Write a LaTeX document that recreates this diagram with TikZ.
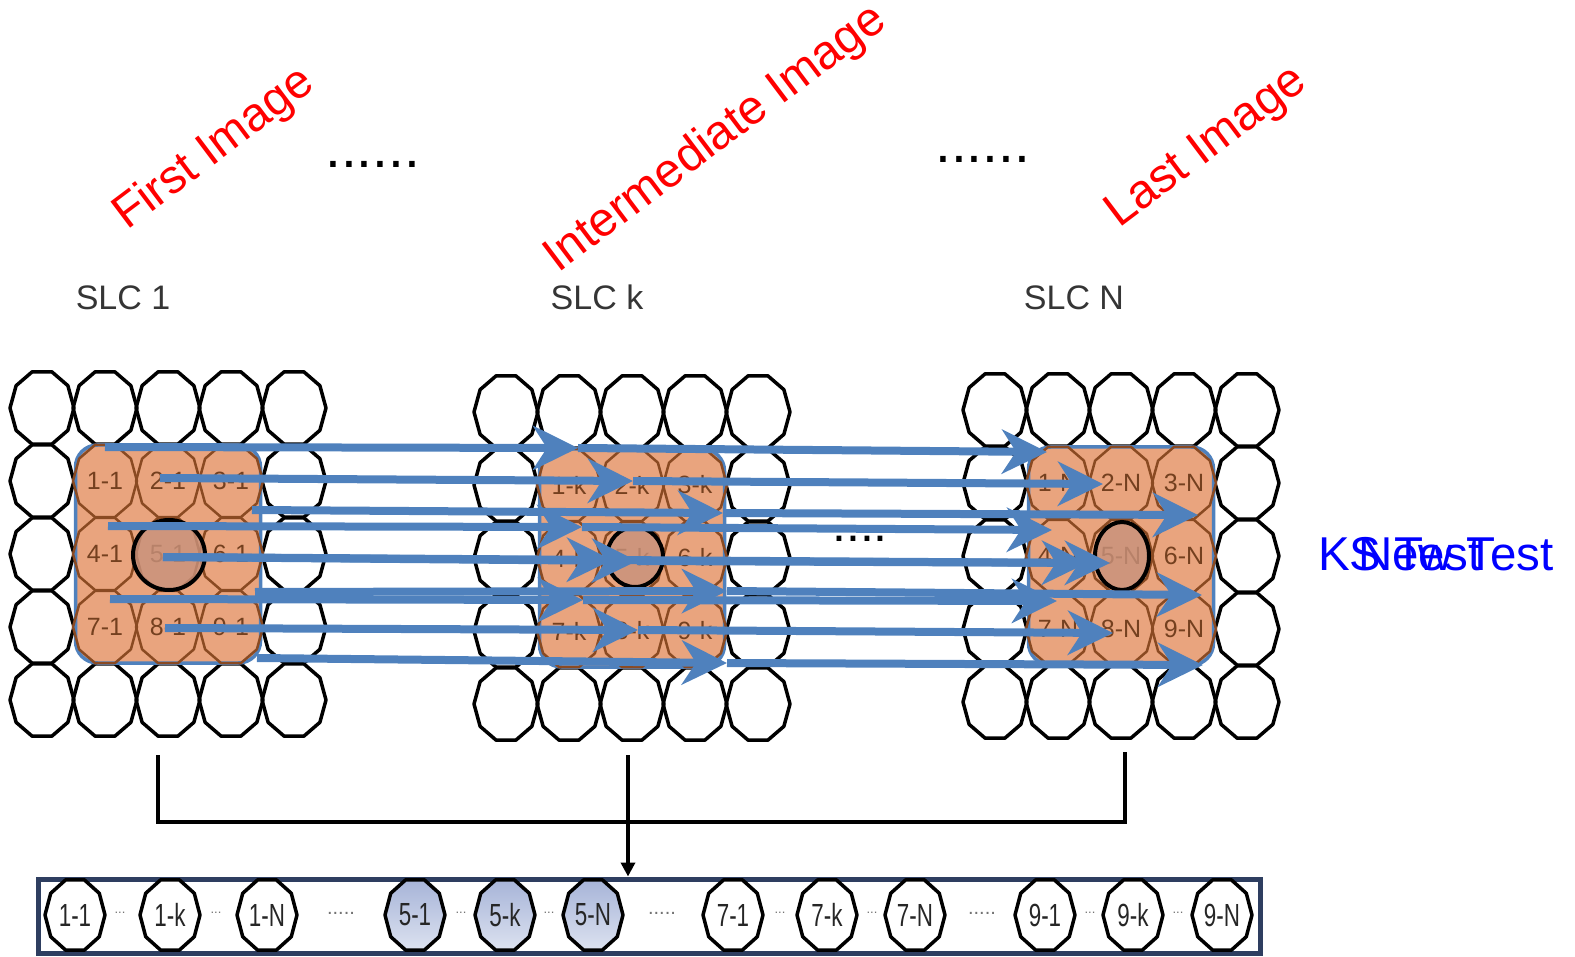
\documentclass[tikz,border=0pt]{standalone}
\usepackage{fontspec}
\setmainfont{Liberation Sans}
\usetikzlibrary{arrows.meta,shapes.geometric}

\definecolor{flowblue}{HTML}{4F81BD}
\definecolor{patchfill}{HTML}{E9A47E}
\definecolor{patchline}{HTML}{8A4A22}
\definecolor{patchtext}{HTML}{74401F}
\definecolor{centrefill}{HTML}{C8927C}
\definecolor{stripline}{HTML}{2E3E60}
\definecolor{labelgray}{HTML}{353535}
\definecolor{shadeA}{HTML}{A7B4D8}
\definecolor{shadeB}{HTML}{DCE2F0}

% decagonal cell outline: centre (#1,#2), radii #3/#4, path style #5
\newcommand{\celloutline}[5]{\path[#5] plot[samples at={0,36,...,324}] ({#1+#3*cos(\x)},{#2+#4*sin(\x)}) -- cycle;}
\def\ringcells{0/0,1/0,2/0,3/0,4/0,0/1,4/1,0/2,4/2,0/3,4/3,0/4,1/4,2/4,3/4,4/4}

% one 5x5 slice: first column x, first row y, slice suffix, patch name
\newcommand{\slcgrid}[4]{%
  \foreach \c/\r in \ringcells {\celloutline{#1+63*\c}{#2+73*\r}{32}{38}{gridcell}}
  \node[patch] (#4) at ({#1+126},{#2+146}) {};
  \foreach \k in {1,...,9} {
    \pgfmathtruncatemacro{\cc}{mod(\k-1,3)+1}
    \pgfmathtruncatemacro{\rr}{div(\k-1,3)+1}
    \celloutline{#1+63*\cc}{#2+73*\rr}{32}{38}{innercell}
    \node[celltext] (#4-\k) at ({#1+63*\cc},{#2+73*\rr}) {\k-#3};
  }
}

\begin{document}
\begin{tikzpicture}[x=1pt,y=-1pt,
  gridcell/.style={draw=black, line width=3.5pt, line join=round},
  innercell/.style={draw=patchline, line width=2.5pt, line join=round},
  patch/.style={draw=flowblue, fill=patchfill, line width=3.5pt, rounded corners=22pt,
    minimum width=185pt, minimum height=218pt, inner sep=0pt},
  celltext/.style={text=patchtext, font=\fontsize{25}{28}\selectfont, inner sep=0pt},
  hub/.style={ellipse, draw=black, line width=4pt, fill=centrefill, fill opacity=0.8, inner sep=0pt},
  flow/.style={draw=flowblue, line width=8pt, -{Stealth[length=45pt,width=44pt,inset=14pt]}},
  redlabel/.style={text=red, rotate=37, anchor=base west, inner sep=0pt},
  slclabel/.style={text=labelgray, font=\fontsize{34}{40}\selectfont, anchor=base, inner sep=0pt},
  testlabel/.style={text=blue, font=\fontsize{47.5}{50}\selectfont, anchor=base west, inner sep=0pt},
  dotrow/.style={font=\fontsize{57}{60}\selectfont, anchor=base west, inner sep=0pt},
  bracket/.style={draw=black, line width=4pt},
  plaincell/.style={draw=black, line width=3.5pt, fill=white, line join=round},
  bluecell/.style={draw=black, line width=3.5pt, top color=shadeA, bottom color=shadeB, line join=round},
  striptext/.style={font=\fontsize{32}{34}\selectfont, text=black!85, inner sep=0pt},
  stripdots/.style={font=\fontsize{13}{14}\selectfont, text=black!55, inner sep=0pt},
  stripgap/.style={font=\fontsize{20}{20}\selectfont, text=black!55, inner sep=0pt}
]
\useasboundingbox (0,0) rectangle (1575,957);

% titles
\node[redlabel, font=\fontsize{47.5}{52}\selectfont] (tfirst) at (127,231) {First Image};
\node[redlabel, font=\fontsize{48}{52}\selectfont] (tmid) at (558,274) {Intermediate Image};
\node[redlabel, font=\fontsize{48}{52}\selectfont] (tlast) at (1119,229) {Last Image};
\node[dotrow] (gap1) at (325,168) {......};
\node[dotrow] (gap2) at (935,163) {......};

\node[slclabel] (lab1) at (123,310) {SLC 1};
\node[slclabel] (labk) at (597,310) {SLC k};
\node[slclabel] (labn) at (1074,310) {SLC N};

% the three slices
\slcgrid{42}{408}{1}{p1}
\slcgrid{506}{412}{k}{pk}
\slcgrid{995}{410}{N}{pn}

\node[hub, minimum width=72pt, minimum height=70pt] (hub1) at (169,555) {};
\node[hub, minimum width=56pt, minimum height=60pt] (hubk) at (635,557) {};
\node[hub, minimum width=54pt, minimum height=68pt] (hubn) at (1122,556) {};

\node[font=\fontsize{50}{50}\selectfont, anchor=base west, inner sep=0pt] (gap3) at (832,541) {....};

% flow endpoints
\coordinate (s1) at (105,447); \coordinate (m1) at (578,448); \coordinate (e1) at (1047,452);
\coordinate (s2) at (160,478); \coordinate (m2) at (633,481); \coordinate (e2) at (1103,484);
\coordinate (s3) at (252,510); \coordinate (m3) at (723,513); \coordinate (e3) at (1198,515);
\coordinate (s4) at (108,526); \coordinate (m4) at (582,527); \coordinate (e4) at (1052,530);
\coordinate (s5) at (163,557); \coordinate (m5) at (637,561); \coordinate (e5) at (1110,563);
\coordinate (s6) at (255,592); \coordinate (m6) at (727,591); \coordinate (e6) at (1202,595);
\coordinate (s7) at (110,599); \coordinate (m7) at (583,600); \coordinate (e7) at (1057,601);
\coordinate (s8) at (165,628); \coordinate (m8) at (638,630); \coordinate (e8) at (1113,633);
\coordinate (s9) at (257,658); \coordinate (m9) at (727,663); \coordinate (e9) at (1203,665);
\coordinate (m5b) at (612,560); \coordinate (e5b) at (1087,563);

\draw[flow] (s5) -- (m5b);
\draw[flow] (m5b) -- (e5b);
\foreach \i in {1,...,9} {
  \draw[flow] (s\i) -- (m\i);
  \draw[flow] (m\i) -- (e\i);
}

\node[testlabel] (ks) at (1318,570) {KS Test};
\node[testlabel] (nt) at (1358,570) {New Test};

% merged sequence
\node[draw=stripline, line width=5pt, fill=white, minimum width=1222pt, minimum height=74pt, inner sep=0pt] (strip) at (649,916) {};

\coordinate (b1) at (158,755); \coordinate (b2) at (628,755); \coordinate (b3) at (1125,752);
\coordinate (j1) at (158,822); \coordinate (j3) at (1125,822);
\draw[bracket] (b1) -- (j1) -- (j3) -- (b3);
\draw[bracket, -{Triangle[length=14pt,width=14pt]}] (b2) -- (b2 |- strip.north);

\foreach \px/\lab in {75/1-1,170/1-k,267/1-N,733/7-1,827/7-k,915/7-N,1045/9-1,1133/9-k,1222/9-N} {
  \celloutline{\px}{915}{30}{37}{plaincell}
  \node[striptext] (q\lab) at (\px,915) {\scalebox{0.7}[1]{\lab}};
}
\foreach \px/\lab in {415/5-1,505/5-k,593/5-N} {
  \celloutline{\px}{915}{30}{37}{bluecell}
  \node[striptext] (q\lab) at (\px,915) {\scalebox{0.7}[1]{\lab}};
}
\foreach \px [count=\n] in {120,216,461,549,780,872,1090,1178} {
  \node[stripdots] (d\n) at (\px,913) {...};
}
\foreach \px [count=\n] in {341,662,982} {
  \node[stripgap] (g\n) at (\px,913) {.....};
}
\end{tikzpicture}
\end{document}
